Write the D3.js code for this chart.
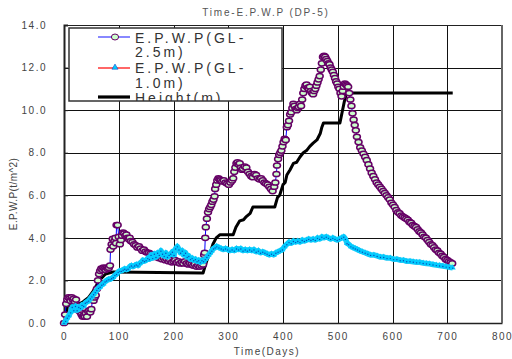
<!DOCTYPE html>
<html>
<head>
<meta charset="utf-8">
<script src="https://cdn.jsdelivr.net/npm/d3@7"></script>
<style>
  html, body { margin: 0; padding: 0; background: #fff; }
  svg { display: block; font-family: "Liberation Sans", Arial, sans-serif; }
</style>
</head>
<body>
<svg id="chart" width="512" height="359"></svg>
<script>
// Excess pore water pressure at DP-5 and fill height over time
const chartTitle = "Time-E.P.W.P (DP-5)";
const xTitle = "Time(Days)";
const yTitle = "E.P.W.P(t/m^2)";
const xTicks = [0, 100, 200, 300, 400, 500, 600, 700, 800];
const yTicks = [0, 2, 4, 6, 8, 10, 12, 14];
const seriesNames = ["E.P.W.P(GL-2.5m)", "E.P.W.P(GL-1.0m)", "Height(m)"];

// E.P.W.P at GL-2.5m
const gl25Days = [0,2,4,6,8,10,12,14,16,18,20,22,24,26,28,30,32,34,36,38,40,42,44,46,48,50,52,54,56,58,60,62,64,66,68,70,72,74,76,78,80,82,84,85,87,89,90,92,94,95,96,98,100,102,104,106,108,110,112,114,116,118,120,122,125,128,131,134,137,140,143,146,149,152,155,158,161,164,167,170,173,176,179,182,185,188,191,194,197,200,203,206,209,212,215,218,221,224,227,230,233,236,239,242,245,248,251,254,256,257,258,259,261,263,265,267,269,271,273,275,276,278,280,282,284,286,289,292,295,298,301,304,307,309,311,313,315,317,319,321,323,325,327,330,333,336,339,342,345,348,351,354,357,360,363,366,369,372,375,378,381,384,386,388,389,391,393,395,397,399,401,403,405,407,409,411,413,415,417,419,421,423,425,427,429,431,433,435,437,439,441,443,445,447,449,451,453,455,457,459,461,463,465,467,469,471,473,475,477,479,481,483,485,487,489,491,493,495,497,499,501,503,505,507,509,511,513,515,517,519,521,523,525,527,529,531,533,535,538,541,544,547,550,553,556,559,562,565,568,571,574,577,580,583,586,589,592,595,598,601,604,607,610,613,616,619,622,625,628,631,634,637,640,643,646,649,652,655,658,661,664,667,670,673,676,679,682,685,688,691,694,697,700,703,706,709];
const gl25Values = [0,0.4,0.9,1.1,1.2,1.15,1.05,1.2,1.1,1.15,1.0,1.1,0.8,0.6,0.7,0.5,0.4,0.3,0.35,0.3,0.45,0.3,0.55,0.6,0.5,0.65,1.1,1.05,1.2,1.3,1.6,2.0,2.3,2.45,2.55,2.5,2.6,2.55,2.5,2.6,2.55,2.6,2.7,3.45,3.7,3.95,3.6,3.85,4.0,3.75,4.6,4.6,4.05,3.7,3.9,4.1,4.25,4.2,4.1,4.15,4.0,3.95,4.0,3.85,3.8,3.7,3.65,3.55,3.6,3.5,3.4,3.45,3.35,3.3,3.3,3.25,3.2,3.2,3.1,3.15,3.05,3.1,3.0,3.05,2.95,3.0,2.9,2.95,2.85,2.9,2.95,2.85,2.9,2.8,2.85,2.8,2.9,2.8,2.75,2.8,2.75,2.7,2.75,2.65,2.7,2.65,2.7,2.75,3.2,3.3,4.0,4.5,4.9,5.2,5.35,5.45,5.55,5.7,5.8,5.95,6.3,6.5,6.7,6.8,6.75,6.7,6.65,6.7,6.6,6.55,6.5,6.6,6.7,6.8,7.1,7.3,7.5,7.55,7.45,7.5,7.3,7.2,7.25,7.35,7.3,7.1,7.0,6.9,6.85,7.0,6.95,6.8,6.75,6.8,6.7,6.6,6.55,6.5,6.4,6.3,6.2,6.4,6.6,7.0,7.4,7.7,7.9,8.0,8.1,8.3,8.5,8.65,8.6,9.2,9.3,9.5,9.8,9.9,10.1,10.3,10.2,10.05,10.0,10.1,10.15,10.3,10.2,10.5,10.8,11.0,11.15,11.2,11.05,11.0,11.1,10.9,10.8,10.75,10.9,11.0,11.15,11.3,11.45,11.6,11.9,12.2,12.5,12.55,12.5,12.4,12.3,12.2,12.15,12.0,11.9,11.8,11.65,11.5,11.35,11.25,11.1,11.0,10.8,10.65,10.9,11.1,11.25,11.2,11.15,11.1,10.8,10.5,10.2,9.85,9.55,9.3,9.05,8.75,8.5,8.25,8.1,7.95,7.8,7.65,7.45,7.25,7.05,6.9,6.75,6.6,6.5,6.4,6.3,6.2,6.1,6.0,5.9,5.8,5.65,5.55,5.45,5.3,5.2,5.15,5.05,5.0,4.95,4.9,4.85,4.75,4.7,4.6,4.55,4.5,4.4,4.3,4.25,4.15,4.05,4.0,3.9,3.8,3.7,3.65,3.55,3.45,3.4,3.3,3.25,3.15,3.1,3.0,2.95,2.9,2.85,2.8];

// E.P.W.P at GL-1.0m
const gl10Days = [0,3,6,9,12,15,18,21,24,27,30,33,36,39,42,45,48,51,54,57,60,63,66,69,72,75,78,81,84,87,90,93,96,99,102,105,108,111,114,117,120,123,126,129,132,135,138,141,144,147,150,153,156,159,162,165,168,171,174,177,180,183,186,189,192,195,198,201,204,207,210,213,216,219,222,225,228,231,234,237,240,243,246,249,252,255,258,261,264,267,270,273,276,279,283,287,291,295,299,303,307,311,315,319,323,327,331,335,339,343,347,351,355,359,363,367,371,375,379,383,387,391,395,399,403,407,411,415,419,423,427,431,435,439,443,447,451,455,459,463,467,471,475,479,483,487,491,495,499,503,507,511,514,517,520,524,528,532,536,540,545,550,555,560,566,572,578,584,590,596,602,608,614,620,626,632,638,644,650,656,662,668,674,680,686,692,698,704,710];
const gl10Values = [0,0.1,0.25,0.35,0.5,0.75,0.6,0.8,0.6,0.75,0.7,0.85,0.8,0.95,1.0,1.05,1.15,1.25,1.35,1.45,1.55,1.65,1.7,1.8,1.85,1.95,2.0,2.05,2.05,2.1,2.15,2.25,2.3,2.4,2.45,2.45,2.5,2.55,2.5,2.55,2.65,2.7,2.65,2.7,2.75,2.7,2.8,2.85,2.95,2.9,2.95,3.05,3.0,3.2,3.05,3.25,3.1,3.3,3.2,3.4,3.25,3.15,3.3,3.1,3.2,3.25,3.35,3.2,3.5,3.6,3.45,3.3,3.4,3.2,3.3,3.1,3.15,3.0,3.05,2.95,3.0,2.9,2.95,2.85,2.95,2.9,3.0,3.1,3.2,3.3,3.4,3.5,3.55,3.6,3.55,3.5,3.45,3.5,3.45,3.4,3.45,3.4,3.5,3.45,3.5,3.4,3.45,3.4,3.45,3.4,3.45,3.35,3.4,3.3,3.35,3.3,3.25,3.2,3.25,3.2,3.3,3.35,3.4,3.45,3.6,3.7,3.8,3.75,3.85,3.8,3.85,3.8,3.9,3.85,3.9,3.95,3.9,3.95,3.9,4.0,3.95,4.05,4.0,4.05,4.0,3.95,4.0,3.95,3.9,3.95,4.0,4.05,3.95,3.75,3.7,3.6,3.55,3.5,3.45,3.4,3.35,3.3,3.25,3.2,3.2,3.15,3.1,3.1,3.05,3.05,3.0,3.0,2.95,2.95,2.9,2.9,2.88,2.85,2.85,2.82,2.8,2.78,2.75,2.72,2.7,2.68,2.65,2.62,2.6];

// Fill height
const heightDays = [0,4,6,25,35,45,52,60,68,76,90,254,258,263,267,272,278,285,309,314,321,328,333,340,345,385,390,394,400,404,407,413,419,425,431,437,443,449,455,462,468,471,474,504,508,512,516,710];
const heightValues = [0,0.05,0.8,0.85,1.0,1.2,1.45,1.8,2.1,2.3,2.4,2.35,2.7,3.1,3.3,3.7,4.0,4.15,4.15,4.5,4.8,4.85,5.0,5.15,5.45,5.45,5.9,6.0,6.5,6.6,6.95,7.2,7.5,7.55,7.8,8.0,8.1,8.3,8.45,8.6,8.9,9.2,9.4,9.4,9.9,10.4,10.8,10.8];

const gl25 = gl25Days.map((d, i) => ({ d, v: gl25Values[i] }));
const gl10 = gl10Days.map((d, i) => ({ d, v: gl10Values[i] }));
const height = heightDays.map((d, i) => ({ d, v: heightValues[i] }));

const svg = d3.select("#chart");
const plot = { left: 64, right: 502, top: 25, bottom: 323 };

const x = d3.scaleLinear().domain([0, 800]).range([plot.left, plot.right]);
const y = d3.scaleLinear().domain([0, 14]).range([plot.bottom, plot.top]);

// grid
const grid = svg.append("g").attr("shape-rendering", "crispEdges");
grid.selectAll("line.vg").data(xTicks.slice(1, -1)).join("line")
  .attr("x1", d => Math.round(x(d)) + 0.5).attr("x2", d => Math.round(x(d)) + 0.5)
  .attr("y1", plot.top).attr("y2", plot.bottom)
  .attr("stroke", "#111").attr("stroke-width", 1);
grid.selectAll("line.hg").data(yTicks.slice(1, -1)).join("line")
  .attr("x1", plot.left).attr("x2", plot.right)
  .attr("y1", d => Math.round(y(d)) + 0.5).attr("y2", d => Math.round(y(d)) + 0.5)
  .attr("stroke", "#111").attr("stroke-width", 1);

// axes
const fmt = d3.format(".1f");
const yAxis = svg.append("g")
  .attr("transform", `translate(${plot.left},0)`)
  .call(d3.axisLeft(y).tickValues(yTicks).tickFormat(fmt).tickSize(-4).tickPadding(17));
yAxis.select(".domain").attr("stroke", "#222").attr("stroke-width", 2);
yAxis.selectAll(".tick line").attr("stroke", "#222");
yAxis.selectAll(".tick text")
  .attr("font-size", 10).attr("fill", "#444").attr("letter-spacing", 1.5)
  .attr("font-family", "Liberation Sans, Arial, sans-serif");

const xAxis = svg.append("g")
  .attr("transform", `translate(0,${plot.bottom})`)
  .call(d3.axisBottom(x).tickValues(xTicks).tickFormat(d3.format("d")).tickSize(0).tickPadding(10));
xAxis.select(".domain").attr("stroke", "#222").attr("stroke-width", 1.5);
xAxis.selectAll(".tick text")
  .attr("font-size", 10).attr("fill", "#444").attr("letter-spacing", 1.4)
  .attr("font-family", "Liberation Sans, Arial, sans-serif");

// frame top and right
svg.append("line").attr("x1", plot.left).attr("x2", plot.right)
  .attr("y1", plot.top + 0.5).attr("y2", plot.top + 0.5)
  .attr("stroke", "#222").attr("stroke-width", 1);
svg.append("line").attr("x1", plot.right).attr("x2", plot.right)
  .attr("y1", plot.top).attr("y2", plot.bottom)
  .attr("stroke", "#666").attr("stroke-width", 2);

const line = d3.line().x(p => x(p.d)).y(p => y(p.v));

// fill height
svg.append("path").datum(height)
  .attr("d", line).attr("fill", "none")
  .attr("stroke", "#000").attr("stroke-width", 3).attr("stroke-linejoin", "round");

// GL-2.5m
svg.append("path").datum(gl25)
  .attr("d", line).attr("fill", "none")
  .attr("stroke", "#0000ff").attr("stroke-width", 1);
svg.append("g").selectAll("ellipse").data(gl25).join("ellipse")
  .attr("cx", p => x(p.d)).attr("cy", p => y(p.v))
  .attr("rx", 3.5).attr("ry", 2.6)
  .attr("fill", "#ccffcc").attr("stroke", "#660066").attr("stroke-width", 1.5);

// GL-1.0m: red line under dense cyan triangle markers
svg.append("path").datum(gl10)
  .attr("d", line).attr("fill", "none")
  .attr("stroke", "#ff0000").attr("stroke-width", 1);
svg.append("path").datum(gl10)
  .attr("d", line).attr("fill", "none")
  .attr("stroke", "#1ec8f5").attr("stroke-width", 5.5).attr("stroke-linejoin", "round");
const tri = d3.symbol().type(d3.symbolTriangle).size(16);
svg.append("g").selectAll("path").data(gl10).join("path")
  .attr("d", tri)
  .attr("transform", p => `translate(${x(p.d)},${y(p.v)})`)
  .attr("fill", "#00ccff");
svg.append("g").selectAll("circle").data(gl10).join("circle")
  .attr("cx", p => x(p.d)).attr("cy", p => y(p.v) + 0.5)
  .attr("r", 0.7).attr("fill", "#0a2aa8").attr("opacity", 0.8);

// titles
svg.append("text").attr("x", 266).attr("y", 16)
  .attr("text-anchor", "middle").attr("font-size", 10).attr("fill", "#555")
  .attr("letter-spacing", 1.8).text(chartTitle);
svg.append("text").attr("x", 267).attr("y", 355)
  .attr("text-anchor", "middle").attr("font-size", 10).attr("fill", "#444")
  .attr("letter-spacing", 1.5).text(xTitle);
svg.append("text").attr("transform", "translate(17,194) rotate(-90)")
  .attr("text-anchor", "middle").attr("font-size", 10).attr("fill", "#444")
  .attr("letter-spacing", 0.4).text(yTitle);

// legend
const lg = { x: 69, y: 28, w: 213, h: 73 };
svg.append("clipPath").attr("id", "legend-clip")
  .append("rect").attr("x", lg.x).attr("y", lg.y).attr("width", lg.w).attr("height", lg.h);
const legend = svg.append("g");
legend.append("rect").attr("x", lg.x).attr("y", lg.y).attr("width", lg.w).attr("height", lg.h)
  .attr("fill", "#fff");
const inner = legend.append("g").attr("clip-path", "url(#legend-clip)");

// sample marks
const sx0 = 98, sx1 = 130, sxm = 115;
inner.append("line").attr("x1", sx0).attr("x2", sx1).attr("y1", 37).attr("y2", 37)
  .attr("stroke", "#6a6aff").attr("stroke-width", 1.6);
inner.append("ellipse").attr("cx", sxm).attr("cy", 37).attr("rx", 3.6).attr("ry", 3)
  .attr("fill", "#ccffcc").attr("stroke", "#660066").attr("stroke-width", 1);
inner.append("line").attr("x1", sx0).attr("x2", sx1).attr("y1", 68).attr("y2", 68)
  .attr("stroke", "#ff0000").attr("stroke-width", 1.2);
inner.append("path").attr("d", tri).attr("transform", `translate(${sxm},67.5)`)
  .attr("fill", "#00ccff").attr("stroke", "#1030c0").attr("stroke-width", 0.5);
inner.append("line").attr("x1", sx0).attr("x2", sx1).attr("y1", 97).attr("y2", 97)
  .attr("stroke", "#000").attr("stroke-width", 3.2);

// legend labels wrap inside the box
const legendLines = [
  { t: seriesNames[0].slice(0, 11), y: 43 },
  { t: seriesNames[0].slice(11), y: 57 },
  { t: seriesNames[1].slice(0, 11), y: 73 },
  { t: seriesNames[1].slice(11), y: 88 },
  { t: seriesNames[2], y: 103 }
];
inner.selectAll("text").data(legendLines).join("text")
  .attr("x", 135).attr("y", d => d.y)
  .attr("font-size", 14).attr("fill", "#333").attr("letter-spacing", 3)
  .text(d => d.t);
legend.append("rect").attr("x", lg.x).attr("y", lg.y).attr("width", lg.w).attr("height", lg.h)
  .attr("fill", "none").attr("stroke", "#333").attr("stroke-width", 1.5);
</script>
</body>
</html>
